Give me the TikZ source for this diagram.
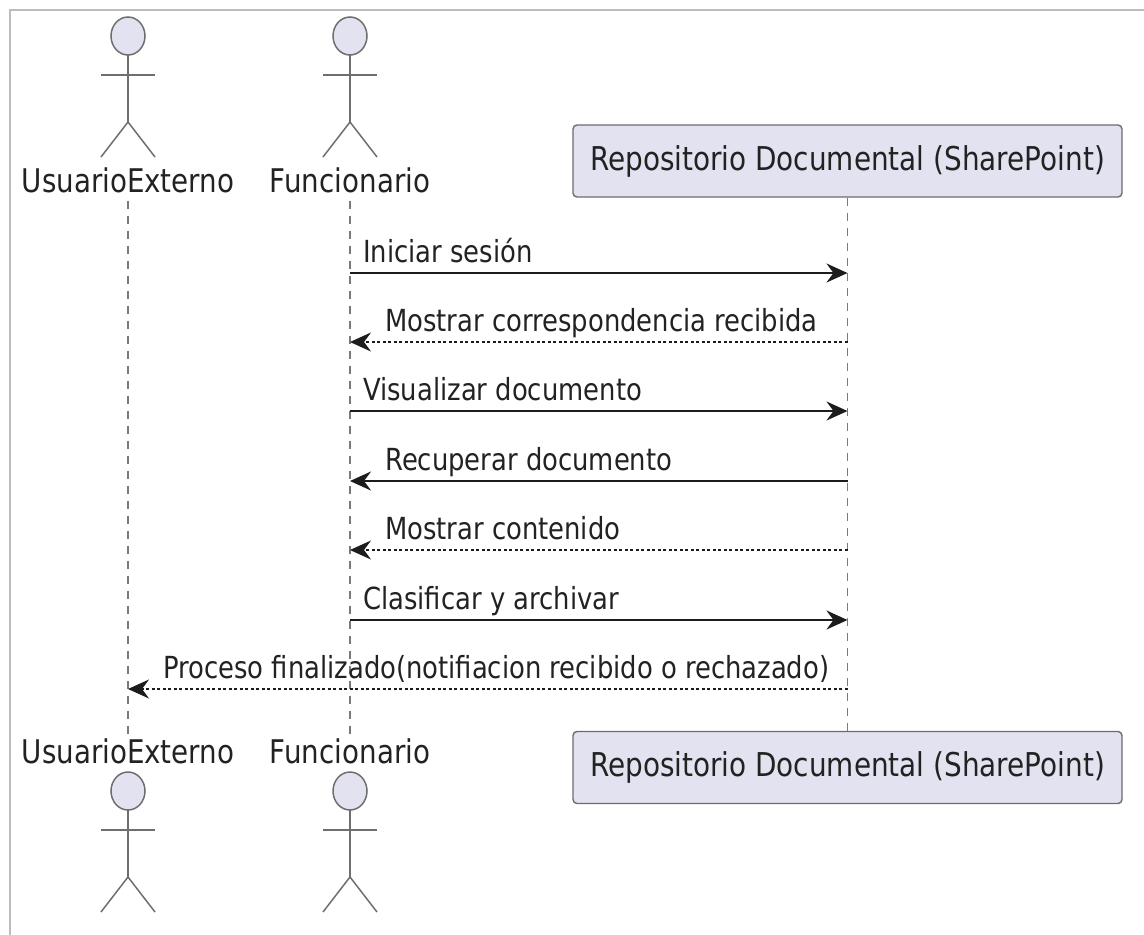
\documentclass[tikz,border=0pt]{standalone}
\usepackage{fontspec}
\setmainfont{DejaVu Sans}[FakeStretch=0.85]
\usetikzlibrary{arrows.meta}
\definecolor{umlfill}{HTML}{E2E2F0}
\definecolor{framegray}{HTML}{BDBDBD}
\definecolor{figline}{HTML}{6E6E6E}
\definecolor{lifegray}{HTML}{7A7A7A}
\definecolor{msgline}{HTML}{1C1C1C}
\definecolor{txt}{HTML}{222222}

\tikzset{
  frameline/.style={draw=framegray, line width=2pt},
  actorlabel/.style={inner sep=0pt, text=txt, font=\fontsize{32.6}{38}\selectfont},
  partbox/.style={draw=gray!85!black, line width=1.4pt, fill=umlfill, rounded corners=4pt,
    minimum width=549pt, minimum height=72pt, inner sep=0pt, text=txt,
    font=\fontsize{32.8}{38}\selectfont},
  lifeline/.style={draw=lifegray, line width=1.3pt, dash pattern=on 8pt off 7pt},
  msglabel/.style={inner sep=0pt, text=txt, font=\fontsize{30.4}{36}\selectfont},
  tip/.style={-{Stealth[length=21pt, width=19pt, inset=7pt]}},
  call/.style={tip, draw=msgline, line width=2pt},
  reply/.style={tip, draw=msgline, line width=1.5pt, dash pattern=on 3pt off 2.5pt},
  stick/.pic={
    \draw[figline, line width=1.5pt, fill=umlfill] (0,0) ellipse [x radius=17, y radius=19];
    \draw[figline, line width=1.5pt] (-27,39) -- (27,39);
    \draw[figline, line width=1.5pt] (0,19) -- (0,86);
    \draw[figline, line width=1.5pt] (-27,121) -- (0,86) -- (27,121);
  }
}

\begin{document}
\begin{tikzpicture}[x=1pt, y=-1pt]
  \useasboundingbox (0,0) rectangle (1144,935);

  % frame edges
  \draw[frameline] (10,935) -- (10,10) -- (1144,10);

  % actors and participant, top row
  \pic at (128,36) {stick};
  \pic at (350,36) {stick};
  \node[actorlabel, anchor=base] (ueTop) at (128,192) {UsuarioExterno};
  \node[actorlabel, anchor=base] (funTop) at (350,192) {Funcionario};
  \node[partbox] (repTop) at (847.5,161) {Repositorio Documental (SharePoint)};

  % actors and participant, bottom row
  \node[actorlabel, anchor=base] (ueBot) at (128,763) {UsuarioExterno};
  \node[actorlabel, anchor=base] (funBot) at (350,763) {Funcionario};
  \node[partbox] (repBot) at (847.5,767.5) {Repositorio Documental (SharePoint)};
  \pic at (128,791) {stick};
  \pic at (350,791) {stick};

  % lifelines
  \draw[lifeline] ([yshift=-8pt]ueTop.south) -- ([yshift=4pt]ueBot.north);
  \draw[lifeline] ([yshift=-8pt]funTop.south) -- ([yshift=4pt]funBot.north);
  \draw[lifeline] (repTop.south) -- (repBot.north);

  % message rows
  \coordinate (m1) at (0,273);
  \coordinate (m2) at (0,342);
  \coordinate (m3) at (0,411);
  \coordinate (m4) at (0,481);
  \coordinate (m5) at (0,550);
  \coordinate (m6) at (0,620);
  \coordinate (m7) at (0,689);

  \draw[call]  (funTop |- m1) -- (repTop |- m1);
  \node[msglabel, anchor=base west] (t1) at (363,262) {Iniciar sesión};

  \draw[reply] (repTop |- m2) -- (funTop |- m2);
  \node[msglabel, anchor=base west] (t2) at (385,331) {Mostrar correspondencia recibida};

  \draw[call]  (funTop |- m3) -- (repTop |- m3);
  \node[msglabel, anchor=base west] (t3) at (363,400) {Visualizar documento};

  \draw[call]  (repTop |- m4) -- (funTop |- m4);
  \node[msglabel, anchor=base west] (t4) at (385,470) {Recuperar documento};

  \draw[reply] (repTop |- m5) -- (funTop |- m5);
  \node[msglabel, anchor=base west] (t5) at (385,539) {Mostrar contenido};

  \draw[call]  (funTop |- m6) -- (repTop |- m6);
  \node[msglabel, anchor=base west] (t6) at (363,609) {Clasificar y archivar};

  \draw[reply] (repTop |- m7) -- (ueTop |- m7);
  \node[msglabel, anchor=base west] (t7) at (163,678) {Proceso finalizado(notifiacion recibido o rechazado)};
\end{tikzpicture}
\end{document}
